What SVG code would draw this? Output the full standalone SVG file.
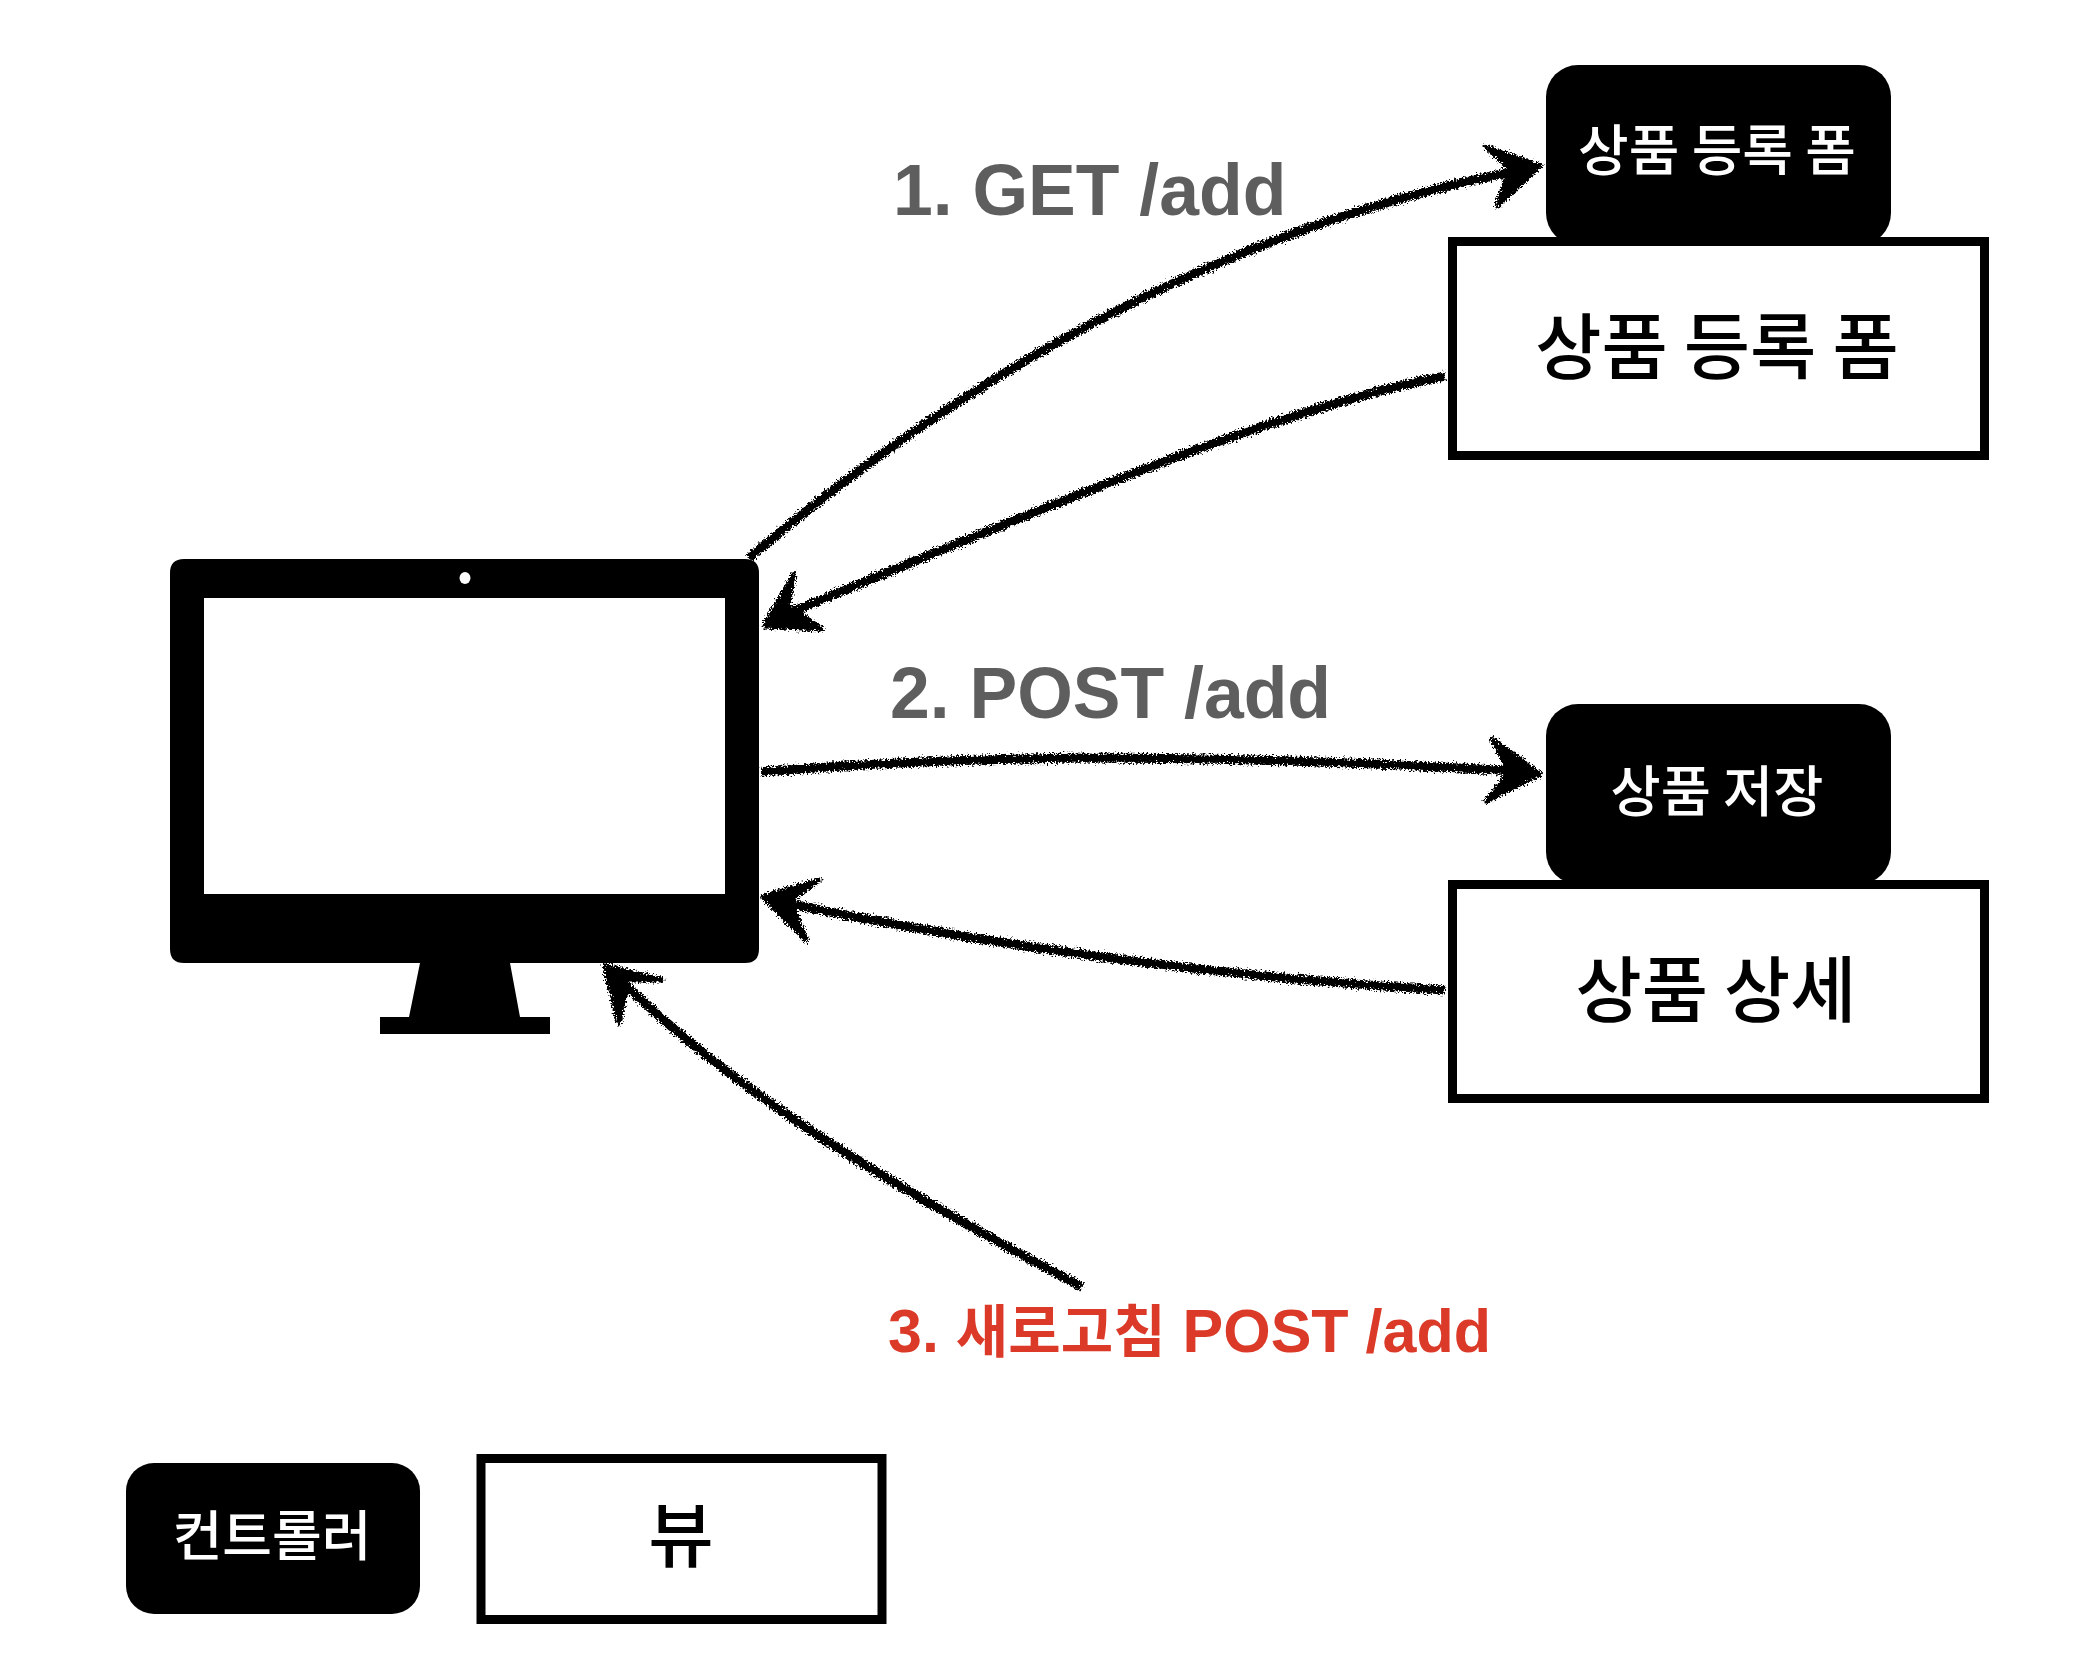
<svg xmlns="http://www.w3.org/2000/svg" width="2084" height="1676" viewBox="0 0 2084 1676">
<style>
.ctrl{fill:#000}
.view{fill:#fff;stroke:#000;stroke-width:9}
.t{font-family:"Noto Sans CJK KR","Liberation Sans",sans-serif;text-anchor:middle;font-weight:500}
.w{fill:#fff}.k{fill:#000}
.lab{font-family:"Liberation Sans","Noto Sans CJK KR",sans-serif;font-weight:700}
.gray{fill:#5e5e5e;font-size:71.500px}
.red{fill:#dc3a28;font-size:61px}
.ko{font-size:57px}
.line{fill:none;stroke:#000;stroke-width:9;stroke-linecap:butt}
.head{fill:#000;stroke:#000;stroke-width:5;stroke-linejoin:round}
</style>
<defs>
<filter id="rough" x="-5%" y="-5%" width="110%" height="110%" filterUnits="objectBoundingBox">
<feTurbulence type="fractalNoise" baseFrequency="0.55" numOctaves="3" seed="4" result="n"/>
<feDisplacementMap in="SourceGraphic" in2="n" scale="9" xChannelSelector="R" yChannelSelector="G"/>
</filter>
</defs>
<rect width="2084" height="1676" fill="#fff"/>
<g id="monitor">
<path fill="#000" d="M184 559H745Q759 559 759 573V949Q759 963 745 963H510L520 1017H550V1034H380V1017H409L420 963H184Q170 963 170 949V573Q170 559 184 559Z"/>
<rect x="204" y="598" width="521" height="296" fill="#fff"/>
<ellipse cx="465" cy="578" rx="5.500" ry="6" fill="#fff"/>
</g>
<g id="controller-form">
<rect class="ctrl" x="1546" y="65" width="345" height="180" rx="32"/>
<text class="t w" x="1717" y="170" font-size="55">상품 등록 폼</text>
</g>
<g id="view-form">
<rect class="view" x="1452.500" y="241.500" width="532" height="214"/>
<text class="t k" x="1717" y="373" font-size="72">상품 등록 폼</text>
</g>
<g id="controller-save">
<rect class="ctrl" x="1546" y="704" width="345" height="180" rx="32"/>
<text class="t w" x="1717" y="811" font-size="54.500">상품 저장</text>
</g>
<g id="view-detail">
<rect class="view" x="1452.500" y="884.500" width="532" height="214"/>
<text class="t k" x="1716" y="1016" font-size="72">상품 상세</text>
</g>
<g id="legend-controller">
<rect class="ctrl" x="126" y="1463" width="294" height="151" rx="28"/>
<text class="t w" x="272" y="1556" font-size="54">컨트롤러</text>
</g>
<g id="legend-view">
<rect class="view" x="481" y="1458.500" width="401" height="161"/>
<text class="t k" x="681" y="1561" font-size="71">뷰</text>
</g>
<g id="connectors" filter="url(#rough)">
<path class="line" d="M749 558C900 430 1170 235 1532 168"/>
<path class="head" d="M1540 166L1486 147L1510 168L1497 206Z"/>
<path class="line" d="M1445 376C1270 410 1040 510 772 620"/>
<path class="head" d="M764 626L794 574L788 606L822 629Z"/>
<path class="line" d="M761 772C1000 752 1250 755 1532 772"/>
<path class="head" d="M1540 774L1492 739L1510 772L1486 801Z"/>
<path class="line" d="M1445 990C1270 980 1030 955 772 900"/>
<path class="head" d="M763 897L820 880L790 900L806 940Z"/>
<path class="line" d="M1082 1287C880 1180 730 1090 612 972"/>
<path class="head" d="M605 966L662 980L628 980L619 1023Z"/>
</g>
<g id="labels">
<text class="lab gray" x="893" y="215">1. GET /add</text>
<text class="lab gray" x="890" y="718">2. POST /add</text>
<text class="lab red" x="888" y="1352">3. <tspan class="ko">새로고침</tspan> POST /add</text>
</g>
</svg>
